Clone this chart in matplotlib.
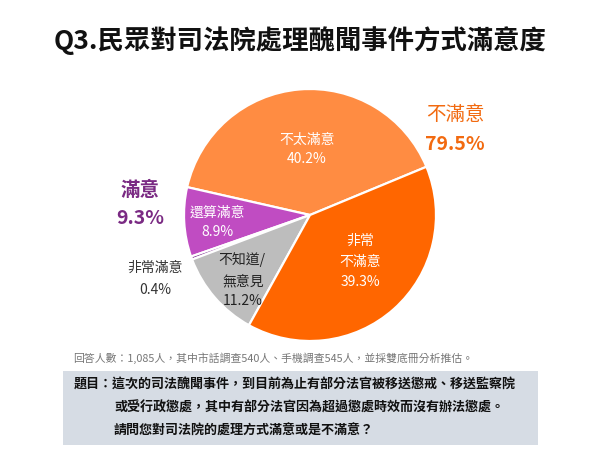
import matplotlib
matplotlib.use("Agg")
import matplotlib.pyplot as plt
from matplotlib.patches import Rectangle

plt.rcParams['font.family'] = ['Noto Sans CJK TC', 'DejaVu Sans']

# ---- data ----
categories = ["不太滿意", "還算滿意", "非常滿意", "不知道/無意見", "非常不滿意"]
values = [40.2, 8.9, 0.4, 11.2, 39.3]
colors = ["#FF8C42", "#C04CC2", "#7A2E8E", "#BDBDBD", "#FF6600"]
group_labels = ["不滿意", "滿意"]
group_values = [79.5, 9.3]

title = "Q3.民眾對司法院處理醜聞事件方式滿意度"
footnote = "回答人數：1,085人，其中市話調查540人、手機調查545人，並採雙底冊分析推估。"
question = ["題目：這次的司法醜聞事件，到目前為止有部分法官被移送懲戒、移送監察院",
            "或受行政懲處，其中有部分法官因為超過懲處時效而沒有辦法懲處。",
            "請問您對司法院的處理方式滿意或是不滿意？"]

W, H = 600, 450
fig = plt.figure(figsize=(6, 4.5), dpi=100)
ax = fig.add_axes([0, 0, 1, 1])

def Y(y):
    return H - y

cx, cy, r = 310, 215, 126
ax.pie(values, colors=colors, startangle=22.5, counterclock=True,
       center=(cx, Y(cy)), radius=r, frame=True,
       wedgeprops=dict(edgecolor='white', linewidth=1.6))
ax.set_xlim(0, W)
ax.set_ylim(0, H)
ax.set_aspect('equal')
ax.axis('off')

# title
ax.text(300, Y(41), title, ha='center', va='center', fontsize=19,
        fontweight='bold', color='#111111')

# inner labels
def lbl(x, y, s, c='white', fs=10):
    ax.text(x, Y(y), s, ha='center', va='center', fontsize=fs, color=c)

lbl(307, 140, categories[0])
lbl(307, 159, f"{values[0]}%")
lbl(217, 213, categories[1])
lbl(217, 232, f"{values[1]}%")
lbl(242, 260, "不知道/", c='#222222')
lbl(243, 281, "無意見", c='#222222')
lbl(243, 301, f"{values[3]}%", c='#222222')
lbl(360, 241, "非常")
lbl(360, 262, "不滿意")
lbl(360, 282, f"{values[4]}%")
lbl(155, 268, categories[2], c='#333333')
lbl(155, 290, f"{values[2]}%", c='#333333')

# group labels
ax.text(455, Y(115), group_labels[0], ha='center', va='center', fontsize=14,
        color='#F26A10')
ax.text(455, Y(145), f"{group_values[0]}%", ha='center', va='center', fontsize=14,
        color='#F26A10', fontweight='bold')
ax.text(140, Y(190), group_labels[1], ha='center', va='center', fontsize=14,
        color='#7A2A83', fontweight='bold')
ax.text(140, Y(218), f"{group_values[1]}%", ha='center', va='center', fontsize=14,
        color='#7A2A83', fontweight='bold')

# footnote
ax.text(73, Y(358), footnote, ha='left', va='center', fontsize=7.8, color='#777777')

# question box
ax.add_patch(Rectangle((63, Y(445)), 475, 74, facecolor='#D6DCE4', edgecolor='none'))
ax.text(74, Y(385), question[0], ha='left', va='center', fontsize=9.4,
        fontweight='bold', color='#111111')
ax.text(114, Y(408), question[1], ha='left', va='center', fontsize=9.4,
        fontweight='bold', color='#111111')
ax.text(114, Y(431), question[2], ha='left', va='center', fontsize=9.4,
        fontweight='bold', color='#111111')

fig.savefig("out.png", dpi=100)
